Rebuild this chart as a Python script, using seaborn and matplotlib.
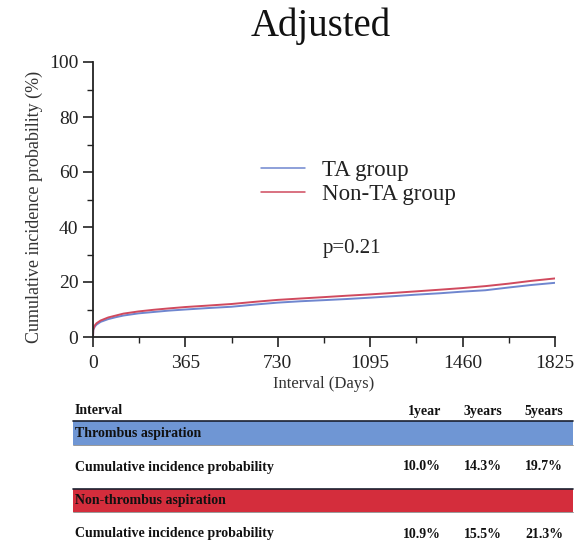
import matplotlib
matplotlib.use("Agg")
import matplotlib.pyplot as plt
import seaborn as sns
import pandas as pd
from matplotlib.patches import Rectangle
from matplotlib.lines import Line2D
from matplotlib.ticker import MultipleLocator

# Cumulative incidence curves (days, %)
days = [0, 1, 7, 14, 30, 60, 90, 120, 180, 240, 300, 365, 450, 547, 640, 730,
        820, 912, 1000, 1095, 1180, 1277, 1370, 1460, 1550, 1642, 1730, 1825]
ta_group = [0, 2.5, 3.8, 4.5, 5.5, 6.5, 7.2, 7.8, 8.6, 9.1, 9.6, 10.0, 10.5, 11.0,
            11.8, 12.5, 13.0, 13.4, 13.8, 14.3, 14.8, 15.4, 15.9, 16.5, 17.0, 18.0,
            18.9, 19.7]
non_ta_group = [0, 2.8, 4.2, 5.0, 6.0, 7.1, 7.8, 8.5, 9.3, 9.9, 10.4, 10.9, 11.4,
                12.0, 12.8, 13.5, 14.0, 14.5, 15.0, 15.5, 16.0, 16.6, 17.2, 17.8,
                18.5, 19.4, 20.4, 21.3]
group_names = ["TA group", "Non-TA group"]
group_colors = ["#6f86cf", "#d04a5e"]
x_ticks = [0, 365, 730, 1095, 1460, 1825]
y_ticks = [0, 20, 40, 60, 80, 100]
p_value_text = "p=0.21"

# Summary table
table_columns = ["1year", "3years", "5years"]
ta_rates = ["10.0%", "14.3%", "19.7%"]
non_ta_rates = ["10.9%", "15.5%", "21.3%"]

sns.set_style("ticks")
plt.rcParams["font.family"] = ["Liberation Serif", "DejaVu Serif"]

df = pd.DataFrame({
    "day": days * 2,
    "value": ta_group + non_ta_group,
    "group": [group_names[0]] * len(days) + [group_names[1]] * len(days),
})

fig = plt.figure(figsize=(5.78, 5.55), dpi=100)
ax = fig.add_axes([93 / 578, 1 - 337 / 555, (555 - 93) / 578, (337 - 62) / 555])

sns.lineplot(data=df, x="day", y="value", hue="group", palette=group_colors,
             hue_order=group_names, linewidth=1.4, ax=ax, legend=False)

ax.set_xlim(0, 1825)
ax.set_ylim(0, 100)
ax.set_xticks(x_ticks)
ax.set_yticks(y_ticks)
ax.xaxis.set_minor_locator(MultipleLocator(182.5))
ax.yaxis.set_minor_locator(MultipleLocator(10))
ax.tick_params(axis="both", which="major", length=7, width=1.2, labelsize=14,
               color="#222222", labelcolor="#222222")
ax.tick_params(axis="x", which="major", pad=6)
ax.tick_params(axis="both", which="minor", length=4, width=1.0, color="#222222")
for s in ["top", "right"]:
    ax.spines[s].set_visible(False)
for s in ["left", "bottom"]:
    ax.spines[s].set_linewidth(1.3)
    ax.spines[s].set_color("#222222")
ax.set_xlabel("Interval (Days)", fontsize=12, labelpad=3, color="#333333")
ax.set_ylabel("Cumulative incidence probability (%)", fontsize=13,
              color="#333333")
ax.yaxis.set_label_coords(-(93 - 43) / 462, (337 - 207) / 275)

fig.text(321 / 578, 1 - 26 / 555, "Adjusted", fontsize=28, ha="center",
         va="center", color="#111111")

# Legend
handles = [Line2D([], [], color=c, lw=1.1) for c in group_colors]
leg = ax.legend(handles, group_names, loc="upper left",
                bbox_to_anchor=((252 - 93) / 462, (337 - 151) / 275),
                frameon=False, fontsize=16.5, handlelength=1.9,
                labelspacing=0.12, handletextpad=0.75, borderaxespad=0)
for t in leg.get_texts():
    t.set_color("#222222")

ax.text((352 - 93) / 462 * 1825, (337 - 248) / 275 * 100, p_value_text,
        fontsize=15, ha="center", va="center", color="#222222")

# Table below the chart
def fy(y):
    return 1 - y / 555

def fx(x):
    return x / 578

tbl_font = dict(fontsize=10, fontweight="bold", color="#111111", va="center")
col_right = [441, 502, 563]

fig.text(fx(75), fy(411), "Interval", ha="left", **tbl_font)
for x, c in zip(col_right, table_columns):
    fig.text(fx(x), fy(411), c, ha="right", **tbl_font)

bands = [(421, 445, "#6f96d4", "Thrombus aspiration", ta_rates, 467),
         (489, 512, "#d42d3c", "Non-thrombus aspiration", non_ta_rates, 534)]
for top, bottom, color, label, rates, row_y in bands:
    fig.patches.append(Rectangle((fx(73), fy(bottom)), fx(573) - fx(73),
                                 fy(top) - fy(bottom), transform=fig.transFigure,
                                 facecolor=color, edgecolor="none"))
    fig.add_artist(Line2D([fx(73), fx(573)], [fy(top), fy(top)],
                          transform=fig.transFigure, color="#1a2030", lw=1.2))
    fig.add_artist(Line2D([fx(73), fx(573)], [fy(bottom), fy(bottom)],
                          transform=fig.transFigure, color="#888888", lw=0.6))
    fig.text(fx(75), fy((top + bottom) / 2), label, ha="left", **tbl_font)
    fig.text(fx(75), fy(row_y), "Cumulative incidence probability", ha="left",
             **tbl_font)
    for x, r in zip(col_right, rates):
        fig.text(fx(x), fy(row_y), r, ha="right", **tbl_font)

fig.savefig("out.png", dpi=100, facecolor="white")
